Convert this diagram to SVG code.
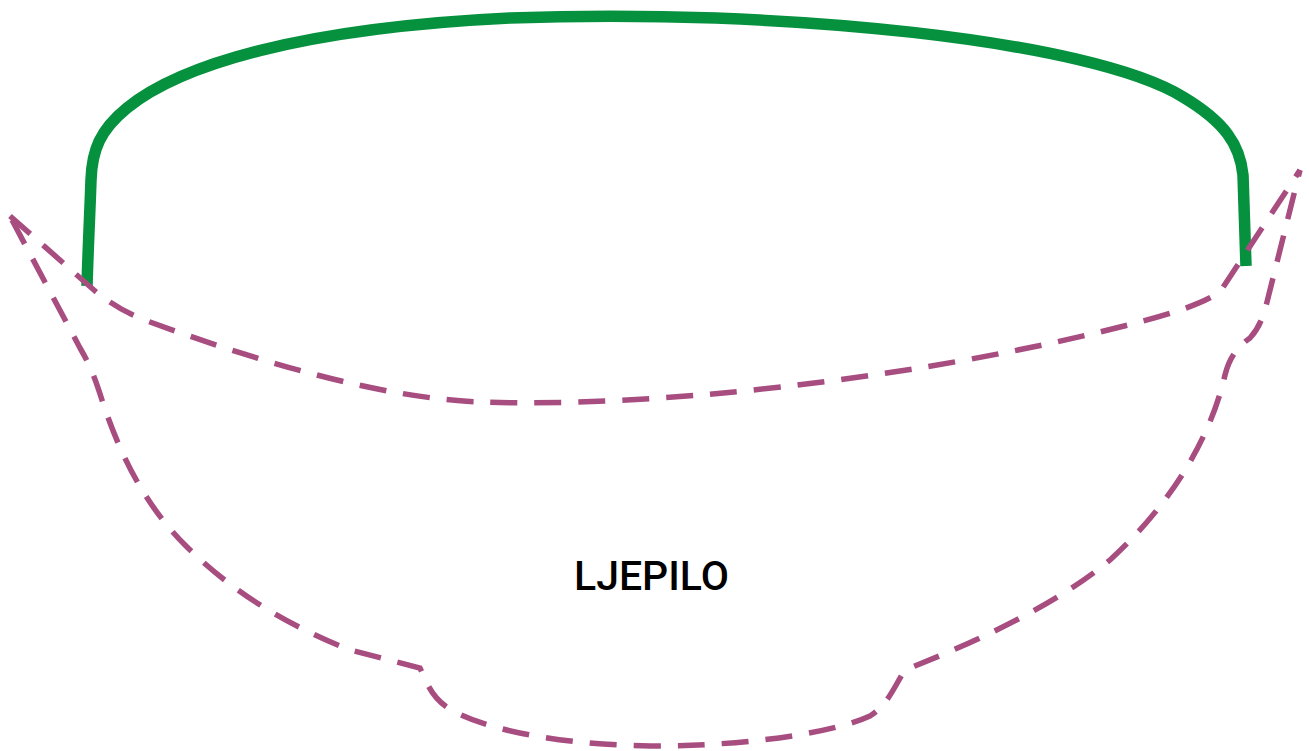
<svg xmlns="http://www.w3.org/2000/svg" width="1309" height="751" viewBox="0 0 1309 751">
<style>
.rim{fill:none;stroke:#06913F;stroke-width:11.5;stroke-linecap:butt}
.dash{fill:none;stroke:#A84D80;stroke-width:5.5;stroke-dasharray:27 17}
.lbl{font-family:Roboto,"DejaVu Sans",sans-serif;font-size:41px;font-weight:500;fill:#000}
</style>
<rect width="1309" height="751" fill="#fff"/>
<g id="lid">
<path class="rim" d="M87,286 C88,250 90,210 91,180 C92,150 100,130 127,108 C180,65 300,28 510,18 C780,8 1090,40 1183,97 C1225,122 1240,145 1243,175 L1246,266"/>
</g>
<g id="bowl">
<path class="dash" d="M10,216 L95,291 C110,303 125,313 150,322 C260,362 380,398 480,402 C650,408 900,380 1100,332 C1170,315 1200,305 1220,292 L1300,170"/>
<path class="dash" d="M12,220 L80,348 C90,365 95,378 102,400 C120,455 145,505 185,545 C240,600 300,630 350,650 L420,668 C428,685 432,700 455,712 C500,735 580,745 650,746 C760,746 840,730 870,716 C888,705 895,685 905,670 C960,648 1050,610 1110,560 C1170,505 1210,440 1225,375 C1230,355 1240,345 1250,338 C1262,325 1265,310 1270,290 L1300,170"/>
</g>
<g id="label">
<text class="lbl" x="574" y="590">LJEPILO</text>
</g>
</svg>
